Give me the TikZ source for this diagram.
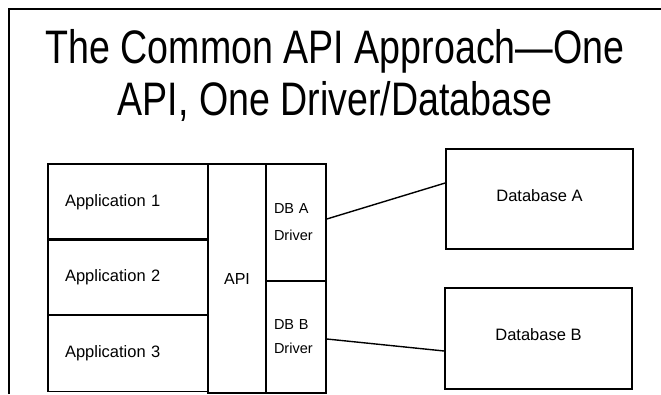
\documentclass[tikz,border=0pt]{standalone}
\usepackage{fontspec}
\setmainfont{Liberation Sans}
\newfontfamily\titlefont[FakeStretch=0.8]{Liberation Sans}
\begin{document}
\begin{tikzpicture}[x=1pt,y=-1pt,
  box/.style={draw, line width=1.6pt, inner sep=0pt},
  appbox/.style={box, minimum width=160pt, minimum height=76pt, text width=126pt, inner xsep=17pt, align=left, font=\fontsize{16.5}{20}\selectfont},
  drvbox/.style={box, minimum width=60pt, text width=44pt, inner xsep=8pt, align=left, font=\fontsize{14.5}{27}\selectfont},
  dbbox/.style={box, minimum width=187pt, minimum height=100pt, font=\fontsize{16.5}{20}\selectfont},
  titletext/.style={anchor=base, font=\titlefont\fontsize{47}{52}\selectfont},
  conn/.style={line width=1.4pt}]
\useasboundingbox (0,0) rectangle (661,394);
% frame
\draw[line width=1.5pt] (9,394) -- (9,9) -- (661,9);
% title
\node[titletext] (title1) at (335,63) {The Common API Approach—One};
\node[titletext] (title2) at (335,115) {API, One Driver/Database};
% applications
\node[appbox] (app1) at (128,202) {Application 1};
\node[appbox] (app2) at (128,277) {Application 2};
\node[appbox] (app3) at (128,353.5) {Application 3};
% API
\node[box, minimum width=58pt, minimum height=229pt, font=\fontsize{16}{20}\selectfont] (api) at (237,278.5) {\raisebox{-6pt}{API}};
% drivers
\node[drvbox, minimum height=117pt] (drvA) at (296,222.5) {DB A\\Driver};
\node[drvbox, minimum height=112pt] (drvB) at (296,337) {\raisebox{6pt}{\parbox{44pt}{\baselineskip=24pt DB B\\Driver}}};
% databases
\node[dbbox] (dbA) at (539.5,199) {\raisebox{7pt}{Database A}};
\node[dbbox, minimum height=101pt] (dbB) at (538.5,338.5) {\raisebox{7pt}{Database B}};
% connectors
\draw[conn] ([yshift=3.5pt]drvA.east) -- ([yshift=16pt]dbA.west);
\draw[conn] ([yshift=-2pt]drvB.east) -- ([yshift=-12.5pt]dbB.west);
\end{tikzpicture}
\end{document}
